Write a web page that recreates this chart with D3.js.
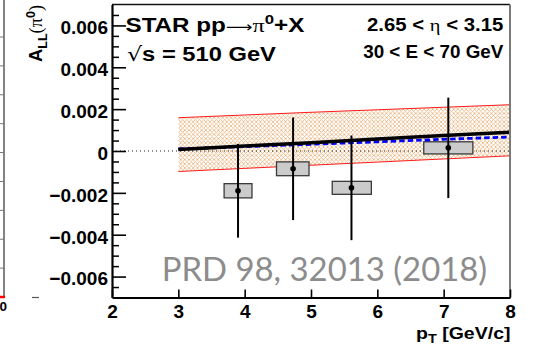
<!DOCTYPE html>
<html>
<head>
<meta charset="utf-8">
<script src="https://cdn.jsdelivr.net/npm/d3@7"></script>
<style>
  html, body { margin: 0; padding: 0; background: #fff; }
  svg { display: block; }
</style>
</head>
<body>
<svg id="chart" width="533" height="351"></svg>
<script>
// Double-helicity asymmetry A_LL for forward pi0 production, pp at sqrt(s) = 510 GeV
const ptValues   = [3.90, 4.73, 5.61, 7.07];
const allValues  = [-0.00190, -0.00085, -0.00176, 0.00015];
const statErrors = [0.00224, 0.00245, 0.00250, 0.00240];
const sysErrors  = [0.00034, 0.00033, 0.00031, 0.00029];
const binLow     = [3.69, 4.48, 5.32, 6.70];
const binHigh    = [4.11, 4.97, 5.91, 7.44];

// Theory expectations versus pT (central fit, alternative fit, uncertainty band)
const theoryPt      = [3, 4, 5, 6, 7, 8];
const theoryCentral = [0.00007, 0.00024, 0.00040, 0.00057, 0.00074, 0.00090];
const theoryAlt     = [0.00010, 0.00021, 0.00032, 0.00044, 0.00056, 0.00067];
const theoryUpper   = [0.00159, 0.00172, 0.00185, 0.00197, 0.00209, 0.00221];
const theoryLower   = [-0.00098, -0.00083, -0.00068, -0.00053, -0.00038, -0.00023];

// Axis ticks and labels
const xTicks      = [2, 3, 4, 5, 6, 7, 8];
const xTickLabels = ["2", "3", "4", "5", "6", "7", "8"];
const yTicks      = [-0.006, -0.004, -0.002, 0, 0.002, 0.004, 0.006];
const yTickLabels = ["\u22120.006", "\u22120.004", "\u22120.002", "0", "0.002", "0.004", "0.006"];
const yMinorTicks = [-0.0065, -0.0055, -0.005, -0.0045, -0.0035, -0.003, -0.0025, -0.0015, -0.001, -0.0005,
                     0.0005, 0.001, 0.0015, 0.0025, 0.003, 0.0035, 0.0045, 0.005, 0.0055, 0.0065];

// Edge of the neighbouring panel on the left
const edgeTicks = [1, 2, 3, 4, 5, 6, 7, 8, 9];

const SANS = "'Liberation Sans', Arial, Helvetica, sans-serif";
const SERIF = "'Liberation Serif', 'DejaVu Serif', serif";

const svg = d3.select("#chart");
const frame = { left: 112, right: 510, top: 4.5, bottom: 297.5 };

const x = d3.scaleLinear().domain([2, 8]).range([frame.left, frame.right]);
const y = d3.scaleLinear().domain([-0.007, 0.007]).range([frame.bottom, frame.top]);

// squeeze / stretch a text element horizontally about its anchor point
function fitText(sel, width) {
  const node = sel.node();
  const w = node.getBBox().width;
  if (!w) return sel;
  const k = width / w;
  const ax = +(sel.attr("x") || 0);
  sel.attr("transform", `translate(${ax},0) scale(${k},1) translate(${-ax},0)`);
  return sel;
}

// cross-hatched fill for the theory band
const defs = svg.append("defs");
const pat = defs.append("pattern")
  .attr("id", "hatch").attr("patternUnits", "userSpaceOnUse")
  .attr("width", 4.2).attr("height", 4.2);
pat.append("path")
  .attr("d", "M0,0L4.2,4.2M4.2,0L0,4.2")
  .attr("stroke", "#e9b47e").attr("stroke-width", 0.8).attr("fill", "none");

// ---- neighbouring panel edge ----
const edge = svg.append("g").attr("class", "edge-panel");
const edgeY = d3.scaleLinear().domain([0, 9]).range([297, 37]);
edge.append("line").attr("x1", 4).attr("x2", 4).attr("y1", 0).attr("y2", edgeY(0))
  .attr("stroke", "#5a5a5a").attr("stroke-width", 1.5);
edge.selectAll("line.t").data(edgeTicks).join("line").attr("class", "t")
  .attr("x1", 0).attr("x2", 4).attr("y1", d => edgeY(d)).attr("y2", d => edgeY(d))
  .attr("stroke", "#777").attr("stroke-width", 1);
edge.append("line").attr("x1", 0).attr("x2", 5).attr("y1", edgeY(0)).attr("y2", edgeY(0))
  .attr("stroke", "#ff0000").attr("stroke-width", 2.5);
edge.append("text").attr("x", 7).attr("y", 310.5).attr("text-anchor", "end")
  .attr("font-family", SANS).attr("font-weight", "bold").attr("font-size", 13.5).text("0");
edge.append("line").attr("x1", 32).attr("x2", 39).attr("y1", 297.5).attr("y2", 297.5)
  .attr("stroke", "#555").attr("stroke-width", 1.2);

// ---- theory band ----
const plot = svg.append("g");
const area = d3.area()
  .x((d, i) => x(theoryPt[i]))
  .y0((d, i) => y(theoryLower[i]))
  .y1((d, i) => y(theoryUpper[i]));
plot.append("path").datum(theoryPt).attr("d", area)
  .attr("fill", "url(#hatch)").attr("stroke", "none");

const curve = arr => d3.line().x((d, i) => x(theoryPt[i])).y((d, i) => y(arr[i]));
[theoryUpper, theoryLower].forEach(arr => {
  plot.append("path").datum(theoryPt).attr("d", curve(arr))
    .attr("fill", "none").attr("stroke", "#ff1a1a").attr("stroke-width", 1);
});

// zero reference line
plot.append("line")
  .attr("x1", x(2)).attr("x2", x(8)).attr("y1", y(0)).attr("y2", y(0))
  .attr("stroke", "#222").attr("stroke-width", 1).attr("stroke-dasharray", "1,3");

// systematic boxes
plot.selectAll("rect.sys").data(ptValues).join("rect").attr("class", "sys")
  .attr("x", (d, i) => x(binLow[i]))
  .attr("width", (d, i) => x(binHigh[i]) - x(binLow[i]))
  .attr("y", (d, i) => y(allValues[i] + sysErrors[i]))
  .attr("height", (d, i) => y(allValues[i] - sysErrors[i]) - y(allValues[i] + sysErrors[i]))
  .attr("fill", "#cbcbcb").attr("stroke", "#3a3a3a").attr("stroke-width", 1.3);

// theory curves
plot.append("path").datum(theoryPt).attr("d", curve(theoryAlt))
  .attr("fill", "none").attr("stroke", "#0000ff").attr("stroke-width", 2.8)
  .attr("stroke-dasharray", "5.5,3");
plot.append("path").datum(theoryPt).attr("d", curve(theoryCentral))
  .attr("fill", "none").attr("stroke", "#000").attr("stroke-width", 3.5);

// statistical error bars and markers
plot.selectAll("line.err").data(ptValues).join("line").attr("class", "err")
  .attr("x1", d => x(d)).attr("x2", d => x(d))
  .attr("y1", (d, i) => y(allValues[i] + statErrors[i]))
  .attr("y2", (d, i) => y(allValues[i] - statErrors[i]))
  .attr("stroke", "#000").attr("stroke-width", 2);
plot.selectAll("circle.pt").data(ptValues).join("circle").attr("class", "pt")
  .attr("cx", d => x(d)).attr("cy", (d, i) => y(allValues[i]))
  .attr("r", 2.8).attr("fill", "#000");

// ---- frame ----
svg.append("line").attr("x1", frame.left).attr("x2", frame.right)
  .attr("y1", frame.top).attr("y2", frame.top)
  .attr("stroke", "#111").attr("stroke-width", 1.6);
svg.append("line").attr("x1", frame.right).attr("x2", frame.right)
  .attr("y1", frame.top).attr("y2", frame.bottom)
  .attr("stroke", "#7a7a7a").attr("stroke-width", 2);

// ---- axes ----
const yAxis = d3.axisLeft(y).tickValues(yTicks)
  .tickFormat((d, i) => yTickLabels[i]).tickSizeInner(-14).tickSizeOuter(0).tickPadding(4);
const yMinor = d3.axisLeft(y).tickValues(yMinorTicks).tickFormat("")
  .tickSizeInner(-7).tickSizeOuter(0);
const xAxis = d3.axisBottom(x).tickValues(xTicks)
  .tickFormat((d, i) => xTickLabels[i]).tickSizeInner(-8).tickSizeOuter(0).tickPadding(7);

const gyMinor = svg.append("g").attr("transform", `translate(${frame.left},0)`).call(yMinor);
gyMinor.select(".domain").remove();
gyMinor.selectAll(".tick line").attr("stroke", "#000").attr("stroke-width", 1.5);

const gy = svg.append("g").attr("transform", `translate(${frame.left},0)`).call(yAxis);
gy.select(".domain").attr("stroke", "#000").attr("stroke-width", 2.2);
gy.selectAll(".tick line").attr("stroke", "#000").attr("stroke-width", 1.6);
gy.selectAll(".tick text").attr("font-family", SANS).attr("font-weight", "bold")
  .attr("font-size", 19).attr("fill", "#000").attr("dy", "0.44em");

const gx = svg.append("g").attr("transform", `translate(0,${frame.bottom})`).call(xAxis);
gx.select(".domain").attr("stroke", "#000").attr("stroke-width", 2.2);
gx.selectAll(".tick line").attr("stroke", "#000").attr("stroke-width", 1.6);
gx.selectAll(".tick text").attr("font-family", SANS).attr("font-weight", "bold")
  .attr("font-size", 19).attr("fill", "#000");

// axis titles
const xt = svg.append("text").attr("x", 510.5).attr("y", 339).attr("text-anchor", "end")
  .attr("font-family", SANS).attr("font-weight", "bold").attr("font-size", 17);
xt.append("tspan").text("p");
xt.append("tspan").attr("font-size", 12.5).attr("dy", 4).text("T");
xt.append("tspan").attr("dy", -4).text(" [GeV/c]");
fitText(xt, 94.5);

const ytG = svg.append("g").attr("transform", "translate(42.3,5) rotate(-90)");
const yt = ytG.append("text").attr("x", 0).attr("y", 0).attr("text-anchor", "end")
  .attr("font-family", SANS).attr("font-weight", "bold").attr("font-size", 19);
yt.append("tspan").text("A");
yt.append("tspan").attr("font-size", 13).attr("dy", 4.5).text("LL");
yt.append("tspan").attr("dy", -4.5).attr("font-family", SERIF).attr("font-weight", "normal").text("(\u03c0");
yt.append("tspan").attr("font-size", 13).attr("dy", -7.5).text("0");
yt.append("tspan").attr("dy", 7.5).attr("font-family", SERIF).attr("font-weight", "normal").text(")");
fitText(yt, 57);

// ---- labels inside the frame ----
const t1 = svg.append("text").attr("x", 125.5).attr("y", 31.7)
  .attr("font-family", SANS).attr("font-weight", "bold").attr("font-size", 19.5);
t1.append("tspan").text("STAR pp");
t1.append("tspan").attr("font-family", "'DejaVu Sans', sans-serif").attr("font-weight", "normal")
  .attr("font-size", 15).text("\u27f6");
t1.append("tspan").attr("font-family", SERIF).attr("font-weight", "normal").text("\u03c0");
t1.append("tspan").attr("font-size", 13.5).attr("dy", -7.5).text("0");
t1.append("tspan").attr("dy", 7.5).text("+X");
fitText(t1, 179);

const t2 = svg.append("text").attr("x", 127).attr("y", 61)
  .attr("font-family", SANS).attr("font-weight", "bold").attr("font-size", 19.5);
t2.append("tspan").attr("font-family", "'DejaVu Sans', sans-serif").attr("font-weight", "normal").text("\u221a");
t2.append("tspan").text("s = 510 GeV");
fitText(t2, 149);

const t3 = svg.append("text").attr("x", 503.3).attr("y", 31).attr("text-anchor", "end")
  .attr("font-family", SANS).attr("font-weight", "bold").attr("font-size", 17.5);
t3.append("tspan").text("2.65 < ");
t3.append("tspan").attr("font-family", SERIF).attr("font-weight", "normal").text("\u03b7");
t3.append("tspan").text(" < 3.15");
fitText(t3, 136.7);

const t4 = svg.append("text").attr("x", 503.3).attr("y", 58.3).attr("text-anchor", "end")
  .attr("font-family", SANS).attr("font-weight", "bold").attr("font-size", 17.5)
  .text("30 < E < 70 GeV");
fitText(t4, 140.6);

const ref = svg.append("text").attr("x", 161.7).attr("y", 281)
  .attr("font-family", "Lato, 'Open Sans', sans-serif").attr("font-size", 32)
  .attr("fill", "#8c8c8c").text("PRD 98, 32013 (2018)");
fitText(ref, 325.6);
</script>
</body>
</html>
